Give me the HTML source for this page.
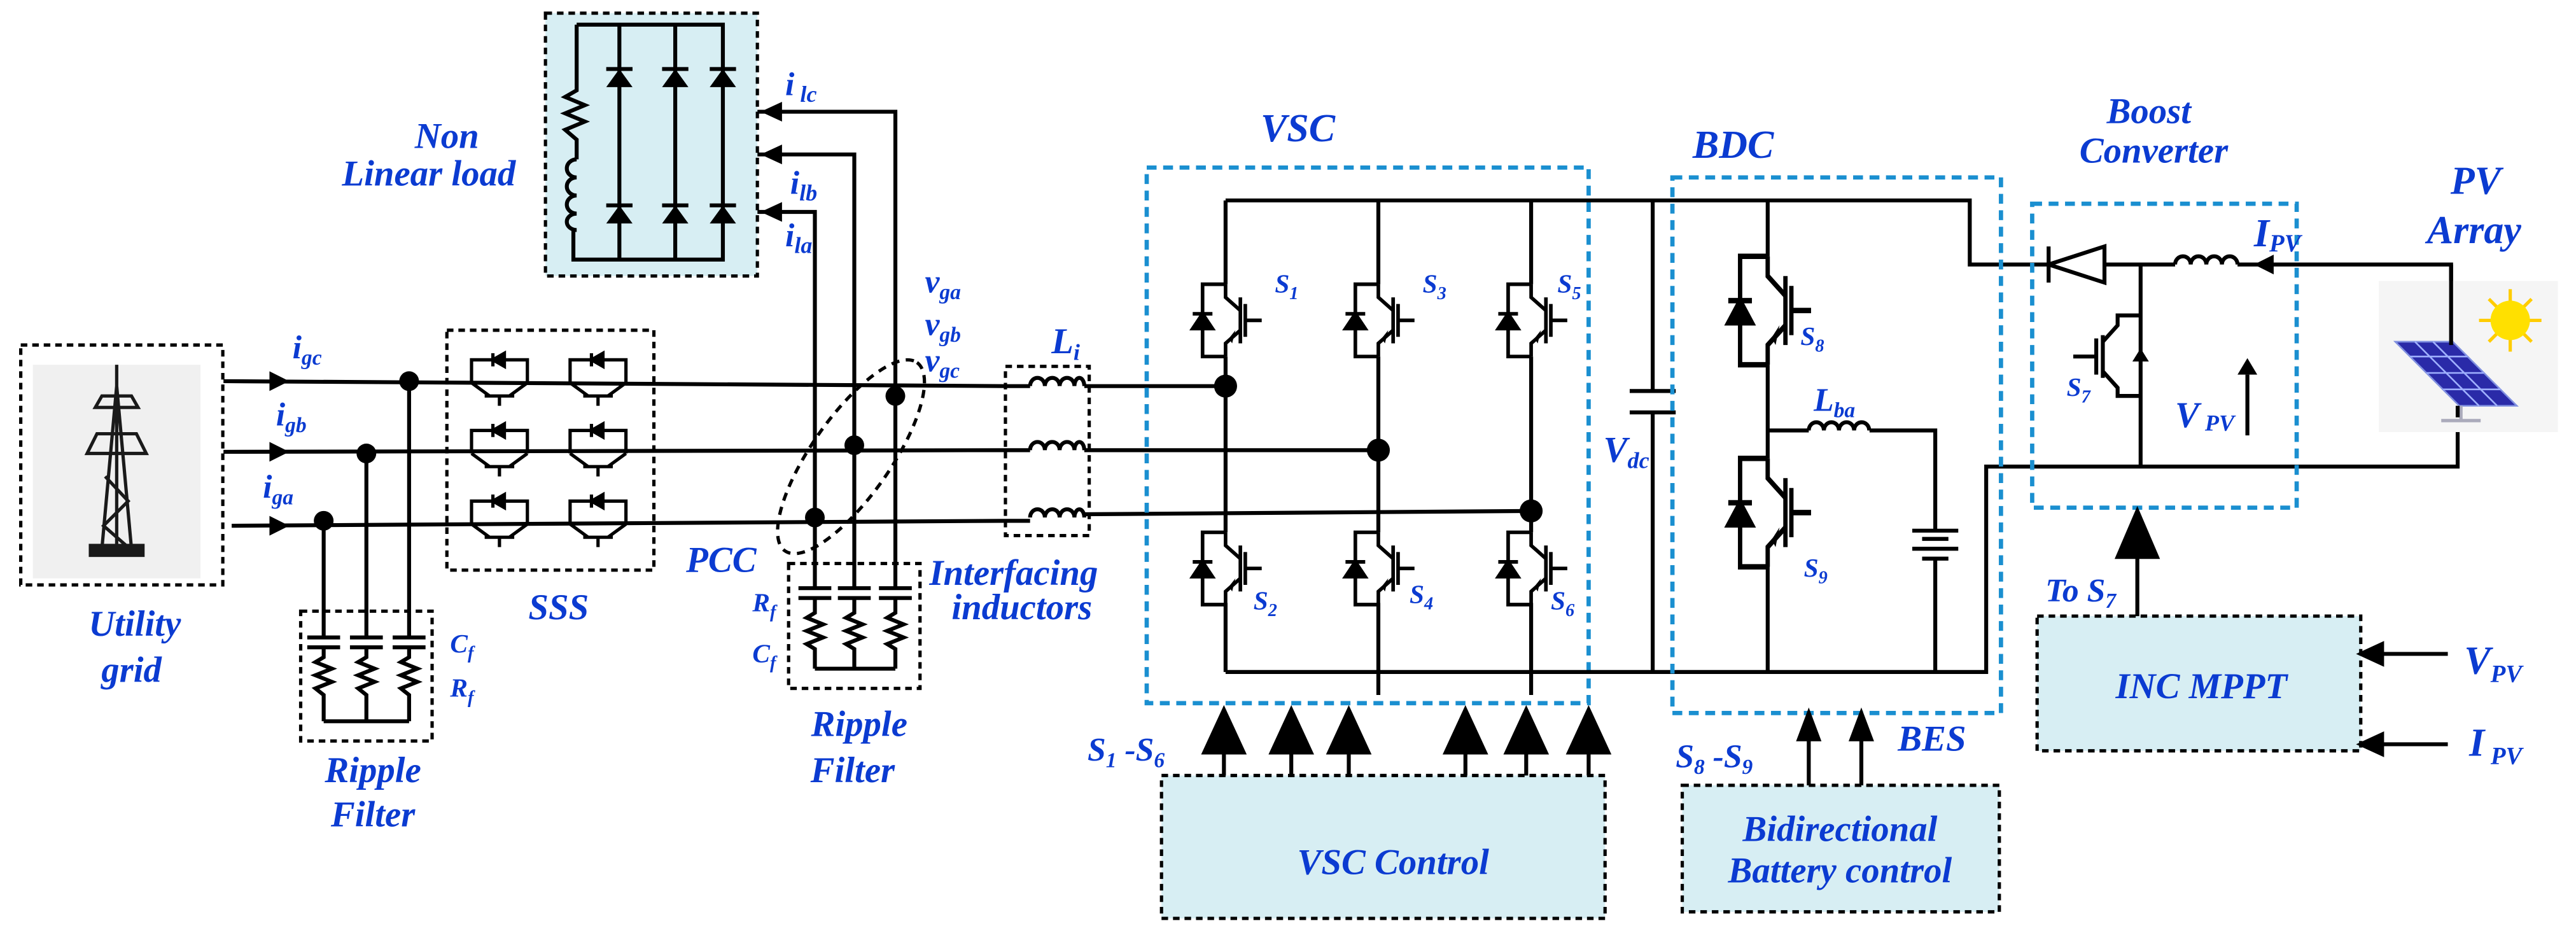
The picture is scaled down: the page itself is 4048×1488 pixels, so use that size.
<!DOCTYPE html>
<html><head><meta charset="utf-8"><style>
html,body{margin:0;padding:0;background:#fff}
svg{display:block}
svg text{font-family:"Liberation Serif","DejaVu Serif",serif;font-weight:bold;font-style:italic;fill:#0b3bd1}
</style></head><body>
<svg width="4048" height="1488" viewBox="0 0 1568 576.4" xmlns="http://www.w3.org/2000/svg" font-family="Liberation Serif, DejaVu Serif, serif" font-weight="bold" font-style="italic">
<defs>
<g id="igbtU" fill="none" stroke="#000" stroke-width="2.2">
 <path d="M0,0 V8 L9,16"/><path d="M9,8 V36"/><path d="M9,28 L0,36 V44"/>
 <path d="M12,12 V32 M12,22 H22"/>
 <path d="M0,0 H-14 V44 H0"/>
 <polygon points="-20,27 -8,27 -14,18" fill="#000"/><path d="M-20,18 H-8"/>
 <polygon points="2,33 6,28 4,36" fill="#000" stroke="none"/>
</g>
<g id="sss" fill="none" stroke="#000" stroke-width="2">
 <path d="M-17,0 V-14 H17 V0"/>
 <polygon points="-4,-14 3,-18 3,-10" fill="#000"/><path d="M-4,-18 V-10"/>
 <path d="M-17,0 L-6,8 M17,0 L6,8 M-9,8 H9 M0,8 V14"/>
</g>
</defs>

<!-- Utility grid -->
<rect x="20" y="222" width="102" height="130" fill="#f0f0f0"/>
<rect x="12.6" y="210" width="123" height="146" fill="none" stroke="#000" stroke-width="2" stroke-dasharray="4,3"/>
<g stroke="#1a1a1a" stroke-width="2" fill="none">
 <path d="M71,222 V338 M71,235 L62,334 M71,235 L80,334"/>
 <path d="M58,248 H84 L80,241 H62 Z M53,276 H89 L83,264 H59 Z"/>
 <path d="M64,290 L78,305 L63,320 L79,334"/>
</g>
<rect x="54" y="331" width="34" height="8" fill="#1a1a1a"/>
<text x="82" y="387" font-size="22" text-anchor="middle">Utility</text>
<text x="80" y="415" font-size="22" text-anchor="middle">grid</text>

<!-- Main lines -->
<g stroke="#000" stroke-width="2.4" fill="none">
 <path d="M136,232 L612,235"/>
 <path d="M136,275 L612,274"/>
 <path d="M141,320 L612,317"/>
 <path d="M612,235 H627 M660,235 L746,235"/>
 <path d="M612,274 H627 M660,274 L839,274"/>
 <path d="M612,317 H627 M660,313 L932,311"/>
 <path d="M249,232 V388 M223,276 V388 M197,317 V388"/>
 <path d="M187,388 H207 M213,388 H233 M239,388 H259 M187,394 H207 M213,394 H233 M239,394 H259"/>
 <path d="M197,394 V400 L192,403 L202,407 L192,411 L202,415 L192,419 L197,423 V439 M223,394 V400 L218,403 L228,407 L218,411 L228,415 L218,419 L223,423 V439 M249,394 V400 L244,403 L254,407 L244,411 L254,415 L244,419 L249,423 V439 M197,439 H249"/>
 <path d="M461,68 H545 V358 M461,94 H520 V358 M461,129 H496 V358"/>
 <path d="M486,358 H506 M510,358 H530 M535,358 H555 M486,364 H506 M510,364 H530 M535,364 H555"/>
 <path d="M496,364 V373 L491,376 L501,380 L491,384 L501,388 L491,392 L496,395 V407 M520,364 V373 L515,376 L525,380 L515,384 L525,388 L515,392 L520,395 V407 M545,364 V373 L540,376 L550,380 L540,384 L550,388 L540,392 L545,395 V407 M496,407 H545"/>
 <path d="M627,235 a4.5,5 0 0 1 9,0 a4.5,5 0 0 1 9,0 a4.5,5 0 0 1 9,0 a3,5 0 0 1 6,0"/>
 <path d="M627,274 a4.5,5 0 0 1 9,0 a4.5,5 0 0 1 9,0 a4.5,5 0 0 1 9,0 a3,5 0 0 1 6,0"/>
 <path d="M627,315 a4.5,5 0 0 1 9,0 a4.5,5 0 0 1 9,0 a4.5,5 0 0 1 9,0 a3,5 0 0 1 6,0"/>
</g>
<g fill="#000">
 <polygon points="164,226 176,232 164,238"/><polygon points="164,269 176,275 164,281"/><polygon points="164,314 176,320 164,326"/>
 <circle cx="249" cy="232" r="6"/><circle cx="223" cy="276" r="6"/><circle cx="197" cy="317" r="6"/>
 <circle cx="545" cy="241" r="6"/><circle cx="520" cy="271" r="6"/><circle cx="496" cy="315" r="6"/>
 <polygon points="463,68 476,62 476,74"/><polygon points="463,94 476,88 476,100"/><polygon points="463,129 476,123 476,135"/>
</g>
<text x="178" y="218" font-size="20">i<tspan font-size="13" dy="4">gc</tspan></text>
<text x="168" y="259" font-size="20">i<tspan font-size="13" dy="4">gb</tspan></text>
<text x="160" y="303" font-size="20">i<tspan font-size="13" dy="4">ga</tspan></text>
<rect x="183" y="372" width="80" height="79" fill="none" stroke="#000" stroke-width="2" stroke-dasharray="4,3"/>
<text x="274" y="397" font-size="16">C<tspan font-size="11" dy="4">f</tspan></text>
<text x="274" y="424" font-size="16">R<tspan font-size="11" dy="4">f</tspan></text>
<text x="227" y="476" font-size="22" text-anchor="middle">Ripple</text>
<text x="227" y="503" font-size="22" text-anchor="middle">Filter</text>

<!-- SSS -->
<rect x="272" y="201" width="126" height="146" fill="none" stroke="#000" stroke-width="2" stroke-dasharray="4,3"/>
<use href="#sss" x="304" y="233"/><use href="#sss" x="364" y="233"/>
<use href="#sss" x="304" y="276"/><use href="#sss" x="364" y="276"/>
<use href="#sss" x="304" y="319"/><use href="#sss" x="364" y="319"/>
<text x="340" y="377" font-size="22" text-anchor="middle">SSS</text>

<!-- Non linear load -->
<rect x="332" y="8" width="129" height="160" fill="#d7eef3" stroke="#000" stroke-width="2" stroke-dasharray="4,3"/>
<g stroke="#000" stroke-width="2.4" fill="none">
 <path d="M351,15 H440 V158 H349 V140"/>
 <path d="M351,15 V55 L344,59 L356,64 L344,69 L356,74 L344,79 L351,85 V97"/>
 <path d="M351,97 a6,5.5 0 0 0 0,11 a6,5.5 0 0 0 0,11 a6,5.5 0 0 0 0,11 a6,5 0 0 0 0,10"/>
 <path d="M377,15 V158 M411,15 V158"/>
 <path d="M369,42 H385 M403,42 H419 M432,42 H448 M369,125 H385 M403,125 H419 M432,125 H448"/>
</g>
<g fill="#000">
 <polygon points="369,53 385,53 377,42"/><polygon points="403,53 419,53 411,42"/><polygon points="432,53 448,53 440,42"/>
 <polygon points="369,136 385,136 377,125"/><polygon points="403,136 419,136 411,125"/><polygon points="432,136 448,136 440,125"/>
</g>
<text x="272" y="90" font-size="22" text-anchor="middle">Non</text>
<text x="261" y="113" font-size="22" text-anchor="middle">Linear load</text>
<text x="478" y="58" font-size="20">i<tspan font-size="14" dy="4"> lc</tspan></text>
<text x="481" y="118" font-size="20">i<tspan font-size="14" dy="4">lb</tspan></text>
<text x="478" y="150" font-size="20">i<tspan font-size="14" dy="4">la</tspan></text>
<text x="563" y="178" font-size="20">v<tspan font-size="13" dy="4">ga</tspan></text>
<text x="563" y="204" font-size="20">v<tspan font-size="13" dy="4">gb</tspan></text>
<text x="563" y="226" font-size="20">v<tspan font-size="13" dy="4">gc</tspan></text>
<ellipse cx="518" cy="278" rx="70" ry="24" transform="rotate(-55 518 278)" fill="none" stroke="#000" stroke-width="2" stroke-dasharray="5,4"/>
<text x="439" y="348" font-size="22" text-anchor="middle">PCC</text>
<rect x="480" y="343" width="80" height="76" fill="none" stroke="#000" stroke-width="2" stroke-dasharray="4,3"/>
<text x="458" y="372" font-size="16">R<tspan font-size="11" dy="4">f</tspan></text>
<text x="458" y="403" font-size="16">C<tspan font-size="11" dy="4">f</tspan></text>
<text x="523" y="448" font-size="22" text-anchor="middle">Ripple</text>
<text x="519" y="476" font-size="22" text-anchor="middle">Filter</text>

<!-- interfacing -->
<rect x="612" y="223" width="51" height="103" fill="none" stroke="#000" stroke-width="2" stroke-dasharray="4,3"/>
<text x="640" y="215" font-size="22">L<tspan font-size="14" dy="4">i</tspan></text>
<text x="617" y="356" font-size="22" text-anchor="middle">Interfacing</text>
<text x="622" y="377" font-size="22" text-anchor="middle">inductors</text>

<!-- VSC -->
<rect x="698" y="102" width="269" height="326" fill="none" stroke="#1a8fd0" stroke-width="2.6" stroke-dasharray="6,4"/>
<text x="790" y="86" font-size="24" text-anchor="middle">VSC</text>
<g stroke="#000" stroke-width="2.4" fill="none">
 <path d="M746,122 H1199 V161 H1247"/>
 <path d="M746,409 H1209 V284 H1496 V254"/>
 <path d="M746,122 V173 M746,217 V324 M746,367 V409"/>
 <path d="M839,122 V173 M839,217 V324 M839,367 V423"/>
 <path d="M932,122 V173 M932,217 V324 M932,367 V423"/>
 <path d="M1006,122 V238 M1006,251 V409 M992,238 H1020 M992,251 H1020"/>
</g>
<use href="#igbtU" x="746" y="173"/><use href="#igbtU" x="839" y="173"/><use href="#igbtU" x="932" y="173"/>
<use href="#igbtU" x="746" y="324"/><use href="#igbtU" x="839" y="324"/><use href="#igbtU" x="932" y="324"/>
<g fill="#000"><circle cx="746" cy="235" r="7"/><circle cx="839" cy="274" r="7"/><circle cx="932" cy="311" r="7"/></g>
<text x="776" y="178" font-size="16">S<tspan font-size="11" dy="4">1</tspan></text>
<text x="866" y="178" font-size="16">S<tspan font-size="11" dy="4">3</tspan></text>
<text x="948" y="178" font-size="16">S<tspan font-size="11" dy="4">5</tspan></text>
<text x="763" y="371" font-size="16">S<tspan font-size="11" dy="4">2</tspan></text>
<text x="858" y="367" font-size="16">S<tspan font-size="11" dy="4">4</tspan></text>
<text x="944" y="371" font-size="16">S<tspan font-size="11" dy="4">6</tspan></text>
<text x="976" y="281" font-size="22">V<tspan font-size="14" dy="4">dc</tspan></text>

<!-- BDC -->
<rect x="1018" y="108" width="200" height="326" fill="none" stroke="#1a8fd0" stroke-width="2.6" stroke-dasharray="6,4"/>
<text x="1055" y="96" font-size="24" text-anchor="middle">BDC</text>
<g stroke="#000" stroke-width="2.4" fill="none">
 <path d="M1076,122 V156 M1076,222 V279 M1076,344 V409"/>
 <path d="M1076,262 H1101 M1138,262 H1178 V323 M1178,340 V410"/>
 <path d="M1101,262 a4.6,5 0 0 1 9.2,0 a4.6,5 0 0 1 9.2,0 a4.6,5 0 0 1 9.2,0 a4.6,5 0 0 1 9.2,0"/>
 <path d="M1164,323 H1192 M1170,328 H1186 M1164,334 H1192 M1170,340 H1186"/>
</g>
<use href="#igbtU" transform="translate(1076 156) scale(1.2 1.5)"/>
<use href="#igbtU" transform="translate(1076 279) scale(1.2 1.5)"/>
<text x="1096" y="210" font-size="16">S<tspan font-size="11" dy="4">8</tspan></text>
<text x="1098" y="351" font-size="16">S<tspan font-size="11" dy="4">9</tspan></text>
<text x="1104" y="250" font-size="20">L<tspan font-size="13" dy="4">ba</tspan></text>
<text x="1176" y="457" font-size="22" text-anchor="middle">BES</text>

<!-- Boost -->
<rect x="1237" y="124" width="161" height="185" fill="none" stroke="#1a8fd0" stroke-width="2.6" stroke-dasharray="6,4"/>
<text x="1308" y="75" font-size="22" text-anchor="middle">Boost</text>
<text x="1311" y="99" font-size="22" text-anchor="middle">Converter</text>
<g stroke="#000" stroke-width="2.4" fill="none">
 <path d="M1247,150 V172 M1281,161 H1324 M1362,161 H1492 V209"/>
 <path d="M1324,161 a4.75,5 0 0 1 9.5,0 a4.75,5 0 0 1 9.5,0 a4.75,5 0 0 1 9.5,0 a4.75,5 0 0 1 9.5,0"/>
 <path d="M1303,161 V284"/>
 <path d="M1303,192 H1289 V198 L1280,208 M1280,204 V230 M1280,226 L1289,236 V241 H1303 M1276,206 V228 M1262,217 H1276"/>
 <path d="M1368,265 V228"/>
</g>
<polygon points="1247,161 1281,150 1281,172" fill="none" stroke="#000" stroke-width="2.4"/>
<polygon points="1298,220 1308,220 1303,212" fill="#000"/>
<polygon points="1372,161 1384,155 1384,167" fill="#000"/>
<polygon points="1362,228 1374,228 1368,218" fill="#000"/>
<text x="1258" y="241" font-size="16">S<tspan font-size="11" dy="4">7</tspan></text>
<text x="1372" y="150" font-size="24">I<tspan font-size="15" dy="3">PV</tspan></text>
<text x="1324" y="260" font-size="22">V<tspan font-size="14" dy="2"> PV</tspan></text>

<!-- PV -->
<rect x="1448" y="171" width="109" height="92" fill="#f5f5f5"/>
<polygon points="1458,208 1493,208 1532,247 1497,247" fill="#2a2aa8" stroke="#8090e0" stroke-width="1"/>
<g stroke="#9fb0ff" stroke-width="1"><path d="M1467,217 H1502 M1477,227 H1512 M1487,237 H1522 M1470,208 L1509,247 M1481,208 L1520,247"/></g>
<path d="M1486,256 H1510 M1498,247 V256" stroke="#aab" stroke-width="2"/>
<g transform="translate(1528 195)">
 <g stroke="#ffcc00" stroke-width="2"><path d="M-19,0 H19 M0,-19 V19 M-13,-13 L13,13 M-13,13 L13,-13"/></g>
 <circle r="12" fill="#ffe000"/>
</g>
<path d="M1492,161 V210 M1496,254 V247" stroke="#000" stroke-width="2.4"/>
<text x="1507" y="118" font-size="24" text-anchor="middle">PV</text>
<text x="1506" y="148" font-size="24" text-anchor="middle">Array</text>

<!-- VSC control -->
<rect x="707" y="472" width="270" height="87" fill="#d7eef3" stroke="#000" stroke-width="2" stroke-dasharray="4,3"/>
<g fill="#000" stroke="#000" stroke-width="2.4">
 <path d="M745,472 V450 M786,472 V450 M821,472 V450 M892,472 V450 M929,472 V450 M967,472 V450"/>
 <polygon points="733,458 757,458 745,432"/><polygon points="774,458 798,458 786,432"/><polygon points="809,458 833,458 821,432"/>
 <polygon points="880,458 904,458 892,432"/><polygon points="917,458 941,458 929,432"/><polygon points="955,458 979,458 967,432"/>
</g>
<text x="848" y="532" font-size="22" text-anchor="middle">VSC Control</text>
<text x="662" y="463" font-size="20">S<tspan font-size="13" dy="4">1</tspan><tspan dy="-4"> -S</tspan><tspan font-size="13" dy="4">6</tspan></text>

<!-- Battery control -->
<rect x="1024" y="478" width="193" height="77" fill="#d7eef3" stroke="#000" stroke-width="2" stroke-dasharray="4,3"/>
<g fill="#000" stroke="#000" stroke-width="2.4">
 <path d="M1101,478 V445 M1133,478 V445"/>
 <polygon points="1095,450 1107,450 1101,434"/><polygon points="1127,450 1139,450 1133,434"/>
</g>
<text x="1120" y="512" font-size="22" text-anchor="middle">Bidirectional</text>
<text x="1120" y="537" font-size="22" text-anchor="middle">Battery control</text>
<text x="1020" y="467" font-size="20">S<tspan font-size="13" dy="4">8</tspan><tspan dy="-4"> -S</tspan><tspan font-size="13" dy="4">9</tspan></text>

<!-- MPPT -->
<rect x="1240" y="375" width="197" height="82" fill="#d7eef3" stroke="#000" stroke-width="2" stroke-dasharray="4,3"/>
<g fill="#000" stroke="#000" stroke-width="2.4">
 <path d="M1301,375 V336"/>
 <polygon points="1289,339 1313,339 1301,311"/>
 <path d="M1490,398 H1445 M1490,453 H1445"/>
 <polygon points="1437,398 1450,392 1450,404"/><polygon points="1437,453 1450,447 1450,459"/>
</g>
<text x="1340" y="425" font-size="22" text-anchor="middle">INC MPPT</text>
<text x="1245" y="366" font-size="20">To S<tspan font-size="13" dy="4">7</tspan></text>
<text x="1500" y="410" font-size="24">V<tspan font-size="15" dy="5">PV</tspan></text>
<text x="1503" y="460" font-size="24">I<tspan font-size="15" dy="5"> PV</tspan></text>
</svg>
</body></html>
